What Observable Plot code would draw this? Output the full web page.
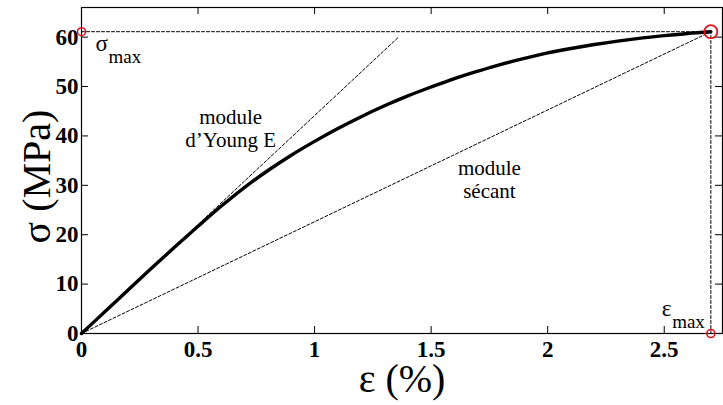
<!DOCTYPE html>
<html>
<head>
<meta charset="utf-8">
<script src="https://cdn.jsdelivr.net/npm/d3@7"></script>
<script src="https://cdn.jsdelivr.net/npm/@observablehq/plot@0.6"></script>
<style>
  html, body { margin: 0; padding: 0; background: #fff; }
  #chart svg { display: block; }
  #chart svg text { font-family: "Liberation Serif", "Times New Roman", serif; }
  #chart g[aria-label="x-axis tick label"] text,
  #chart g[aria-label="y-axis tick label"] text { font-weight: bold; }
</style>
</head>
<body>
<div id="chart"></div>
<script>
// Stress–strain curve (strain in %, stress in MPa)
const strain = [0, 0.1, 0.2, 0.3, 0.4, 0.5, 0.6, 0.7, 0.8, 0.9, 1.0, 1.1, 1.2, 1.3, 1.4, 1.5, 1.6, 1.7, 1.8, 1.9, 2.0, 2.1, 2.2, 2.3, 2.4, 2.5, 2.6, 2.70];
const stress = [0, 4.4, 8.8, 13.2, 17.5, 21.7, 25.8, 29.6, 33.0, 36.1, 38.9, 41.5, 43.9, 46.1, 48.1, 49.9, 51.6, 53.1, 54.5, 55.7, 56.8, 57.7, 58.5, 59.2, 59.8, 60.3, 60.75, 61.1];

// Peak point
const epsMax = 2.70;
const sigmaMax = 61.1;

// Tangent (Young's modulus) line end point
const youngEnd = [1.36, 60];

// Axis ticks and labels
const xTicks = [0, 0.5, 1, 1.5, 2, 2.5];
const xTickLabels = ["0", "0.5", "1", "1.5", "2", "2.5"];
const yTicks = [0, 10, 20, 30, 40, 50, 60];
const yTickLabels = ["0", "10", "20", "30", "40", "50", "60"];
const xLabel = "ε (%)";
const yLabel = "σ (MPa)";

// Text annotations
const annotationText = ["module\nd\u2019Young E", "module\nsécant"];
const annotationX = [0.64, 1.75];
const annotationY = [41.6, 31.2];

const curve = strain.map((e, i) => ({e, s: stress[i]}));
const youngLine = [{e: 0, s: 0}, {e: youngEnd[0], s: youngEnd[1]}];
const secantLine = [{e: 0, s: 0}, {e: epsMax, s: sigmaMax}];
const hLine = [{e: 0, s: sigmaMax}, {e: epsMax, s: sigmaMax}];
const vLine = [{e: epsMax, s: 0}, {e: epsMax, s: sigmaMax}];
const annotations = annotationText.map((t, i) => ({t, e: annotationX[i], s: annotationY[i]}));

const serif = "'Liberation Serif', 'Times New Roman', serif";
const dash = {stroke: "#000", strokeWidth: 1, strokeDasharray: "3,2"};
const tickLen = 7;
const W = 723, H = 405, mL = 81, mR = 1, mT = 7, mB = 72;
const innerW = W - mL - mR, innerH = H - mT - mB;

const chart = Plot.plot({
  width: W,
  height: H,
  marginLeft: mL,
  marginRight: mR,
  marginTop: mT,
  marginBottom: mB,
  style: {fontFamily: serif, color: "#000", background: "#fff"},
  x: {domain: [0, 2.75]},
  y: {domain: [0, 66]},
  marks: [
    // dashed construction lines
    Plot.line(hLine, {x: "e", y: "s", ...dash}),
    Plot.line(vLine, {x: "e", y: "s", ...dash}),
    Plot.line(secantLine, {x: "e", y: "s", ...dash}),
    Plot.line(youngLine, {x: "e", y: "s", ...dash}),
    // measured curve
    Plot.line(curve, {x: "e", y: "s", stroke: "#000", strokeWidth: 3.4, curve: "catmull-rom"}),
    // frame and inward ticks on all four sides
    Plot.frame({stroke: "#000", strokeWidth: 1.2}),
    Plot.tickX(xTicks, {x: d => d, insetTop: innerH - tickLen, stroke: "#000"}),
    Plot.tickX(xTicks, {x: d => d, insetBottom: innerH - tickLen, stroke: "#000"}),
    Plot.tickY(yTicks, {y: d => d, insetRight: innerW - tickLen, stroke: "#000"}),
    Plot.tickY(yTicks, {y: d => d, insetLeft: innerW - tickLen, stroke: "#000"}),
    Plot.axisX({ticks: xTicks, tickFormat: (d, i) => xTickLabels[i], tickSize: 0, tickPadding: 7, fontSize: 23, fontWeight: "bold", label: null}),
    Plot.axisY({ticks: yTicks, tickFormat: (d, i) => yTickLabels[i], tickSize: 0, tickPadding: 3, fontSize: 23, fontWeight: "bold", label: null}),
    // axis titles
    Plot.text([xLabel], {text: d => d, frameAnchor: "bottom", textAnchor: "middle", lineAnchor: "middle", dy: 46, fontSize: 40, fill: "#000"}),
    Plot.text([yLabel], {text: d => d, frameAnchor: "left", textAnchor: "middle", lineAnchor: "middle", rotate: -90, dx: -44, dy: 6, fontSize: 40, fill: "#000"}),
    // peak markers
    Plot.dot([{e: 0, s: sigmaMax}, {e: epsMax, s: 0}], {x: "e", y: "s", r: 4, stroke: "#e0141e", strokeWidth: 1.6}),
    Plot.dot([{e: epsMax, s: sigmaMax}], {x: "e", y: "s", r: 6.5, stroke: "#e0141e", strokeWidth: 1.8}),
    // σmax and εmax labels
    Plot.text([{e: 0, s: sigmaMax}], {x: "e", y: "s", text: () => "σ", textAnchor: "start", dx: 14, dy: 12, fontSize: 23, fill: "#000"}),
    Plot.text([{e: 0, s: sigmaMax}], {x: "e", y: "s", text: () => "max", textAnchor: "start", dx: 27, dy: 25, fontSize: 19, fill: "#000"}),
    Plot.text([{e: epsMax, s: 0}], {x: "e", y: "s", text: () => "ε", textAnchor: "start", dx: -49, dy: -25, fontSize: 23, fill: "#000"}),
    Plot.text([{e: epsMax, s: 0}], {x: "e", y: "s", text: () => "max", textAnchor: "end", dx: -6, dy: -12, fontSize: 19, fill: "#000"}),
    // modulus annotations
    Plot.text(annotations, {x: "e", y: "s", text: "t", fontSize: 21, lineHeight: 1.1, fill: "#000"})
  ]
});

document.getElementById("chart").appendChild(chart);
</script>
</body>
</html>
